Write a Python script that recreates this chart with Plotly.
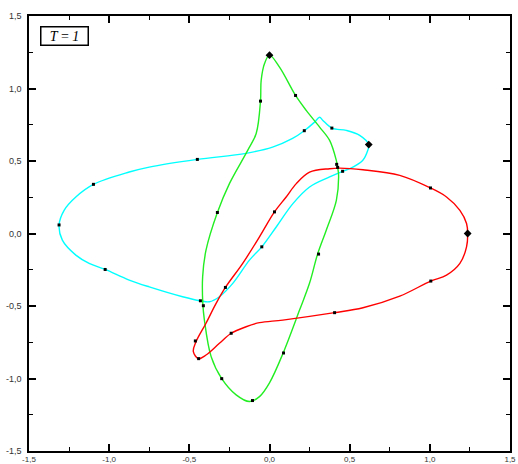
import plotly.graph_objects as go

# ---- data ----
green_x = [0.0, 0.0625, 0.1625, 0.229, 0.3125, 0.375, 0.417, 0.425, 0.431, 0.417, 0.354, 0.30, 0.25, 0.1875,
           0.086, 0.0, -0.0625, -0.125, -0.208, -0.298, -0.364, -0.406, -0.416, -0.417, -0.396, -0.325, -0.25,
           -0.136, -0.083, -0.056, -0.052, -0.031, 0.0]
green_y = [1.23, 1.147, 0.952, 0.849, 0.734, 0.642, 0.503, 0.456, 0.401, 0.229, 0.023, -0.142, -0.342, -0.528,
           -0.822, -1.030, -1.125, -1.159, -1.113, -1.001, -0.849, -0.597, -0.480, -0.299, -0.115, 0.145, 0.344,
           0.573, 0.690, 0.917, 1.055, 1.172, 1.23]
green_dot_x = [0.1625, 0.419, 0.306, 0.0875, -0.106, -0.298, -0.4125, -0.325, -0.056]
green_dot_y = [0.952, 0.477, -0.142, -0.824, -1.152, -1.001, -0.498, 0.145, 0.913]
green_mark = [0.0, 1.23]

cyan_x = [0.619, 0.5625, 0.479, 0.389, 0.333, 0.3125, 0.281, 0.217, 0.144, 0.019, -0.146, -0.45, -0.75,
          -0.875, -1.098, -1.208, -1.281, -1.3125, -1.292, -1.208, -1.125, -1.025, -0.875, -0.75, -0.542,
          -0.431, -0.375, -0.3125, -0.229, -0.125, -0.048, 0.042, 0.146, 0.25, 0.375, 0.456, 0.5, 0.581,
          0.6125, 0.619]
cyan_y = [0.613, 0.677, 0.711, 0.727, 0.780, 0.802, 0.768, 0.709, 0.656, 0.596, 0.553, 0.511, 0.458,
          0.424, 0.339, 0.252, 0.160, 0.057, -0.046, -0.149, -0.206, -0.248, -0.321, -0.368, -0.436,
          -0.464, -0.471, -0.436, -0.344, -0.184, -0.092, 0.045, 0.206, 0.321, 0.390, 0.429, 0.447, 0.504,
          0.573, 0.613]
cyan_dot_x = [0.389, 0.217, -0.45, -1.098, -1.3125, -1.025, -0.431, -0.048, 0.456]
cyan_dot_y = [0.727, 0.709, 0.511, 0.339, 0.059, -0.248, -0.464, -0.092, 0.429]
cyan_mark = [0.619, 0.613]

red_x = [1.236, 1.229, 1.1875, 1.104, 1.004, 0.8125, 0.583, 0.4375, 0.375, 0.25, 0.167, 0.104, 0.031,
         -0.0625, -0.167, -0.275, -0.333, -0.396, -0.458, -0.475, -0.442, -0.396, -0.3125, -0.239, -0.146,
         -0.0625, 0.083, 0.406, 0.583, 0.8125, 1.006, 1.104, 1.1875, 1.229, 1.236]
red_y = [0.0, 0.069, 0.160, 0.252, 0.314, 0.401, 0.440, 0.451, 0.447, 0.423, 0.344, 0.252, 0.149,
         -0.023, -0.206, -0.372, -0.482, -0.619, -0.746, -0.815, -0.863, -0.838, -0.757, -0.688, -0.643,
         -0.615, -0.597, -0.546, -0.512, -0.432, -0.328, -0.287, -0.206, -0.092, 0.0]
red_dot_x = [1.004, 0.425, 0.031, -0.275, -0.4625, -0.442, -0.239, 0.406, 1.006]
red_dot_y = [0.314, 0.456, 0.149, -0.372, -0.741, -0.863, -0.688, -0.546, -0.328]
red_mark = [1.236, 0.0]

tick_vals = [-1.5, -1.0, -0.5, 0.0, 0.5, 1.0, 1.5]
tick_text = ["-1,5", "-1,0", "-0,5", "0,0", "0,5", "1,0", "1,5"]
label_text = "<i>T</i> = <i>1</i>"

fig = go.Figure()
for xs, ys, col in [(cyan_x, cyan_y, "#00FFFF"), (green_x, green_y, "#22EE22"), (red_x, red_y, "#FF0000")]:
    fig.add_trace(go.Scatter(x=xs, y=ys, mode="lines", line=dict(color=col, width=1.4, shape="spline", smoothing=1.0),
                             hoverinfo="skip", showlegend=False))
for dx, dy in [(cyan_dot_x, cyan_dot_y), (green_dot_x, green_dot_y), (red_dot_x, red_dot_y)]:
    fig.add_trace(go.Scatter(x=dx, y=dy, mode="markers", marker=dict(symbol="square", size=3, color="black"),
                             showlegend=False))
mx = [cyan_mark[0], green_mark[0], red_mark[0]]
my = [cyan_mark[1], green_mark[1], red_mark[1]]
fig.add_trace(go.Scatter(x=mx, y=my, mode="markers", marker=dict(symbol="diamond", size=6, color="black"),
                         showlegend=False))

axis_common = dict(showline=True, linecolor="black", linewidth=1.5, mirror="ticks", ticks="inside",
                   ticklen=7, tickwidth=1.5, tickcolor="black", showgrid=False, zeroline=False,
                   automargin=False, tickvals=tick_vals, ticktext=tick_text,
                   minor=dict(ticks="inside", ticklen=4, tickwidth=1, tickcolor="black", dtick=0.25, showgrid=False))
fig.update_xaxes(range=[-1.5, 1.5], ticklabelstandoff=0,
                 tickfont=dict(family="Liberation Sans, Arial", size=8, color="#333"), **axis_common)
fig.update_yaxes(range=[-1.5, 1.5], ticklabelstandoff=4,
                 tickfont=dict(family="Liberation Sans, Arial", size=9, color="#333"), **axis_common)

fig.add_annotation(x=0.0228, y=1.36, xref="paper", yref="y", xanchor="left", yanchor="middle",
                   text=label_text, showarrow=False, bordercolor="black", borderwidth=1.5, borderpad=1,
                   width=44, height=15, align="center",
                   bgcolor="white", font=dict(family="Liberation Serif, Times New Roman", size=14, color="black"))

fig.update_layout(width=518, height=464, margin=dict(l=29, r=8, t=16, b=13),
                  plot_bgcolor="white", paper_bgcolor="white")
fig.write_html("out.html")
